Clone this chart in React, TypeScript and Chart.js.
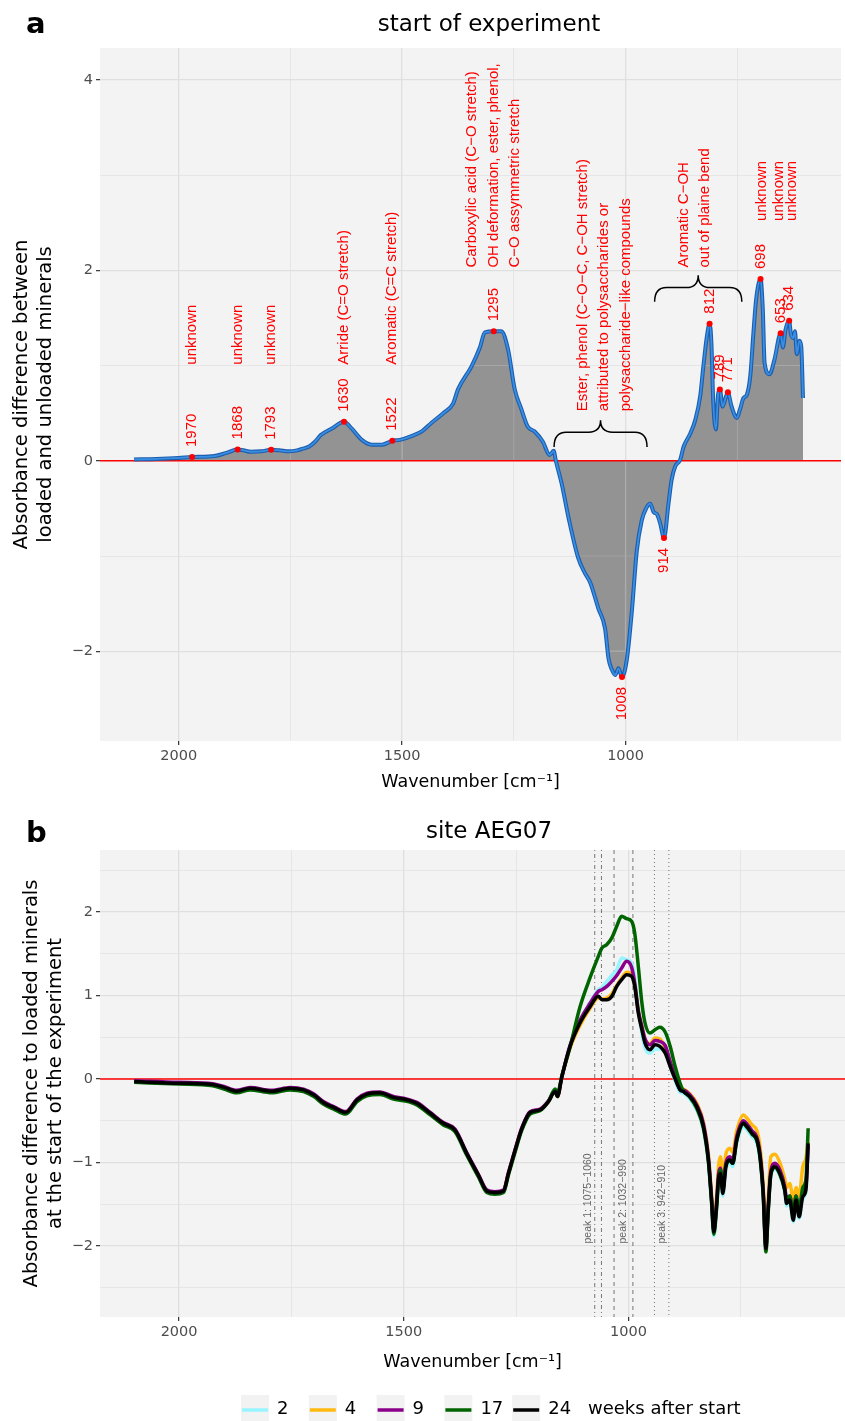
import React, { useEffect, useRef } from 'react';
import { Chart, registerables } from 'chart.js';

Chart.register(...registerables);

const SANS = '"DejaVu Sans", Verdana, sans-serif';
const ARIAL = '"Liberation Sans", Arial, Helvetica, sans-serif';

// ---------- shared axis ----------
const xTickValues = [2000, 1750, 1500, 1250, 1000, 750];
const xTickLabels = [2000, 1500, 1000];

// ---------- panel a data ----------
const wnA = [2100, 2050, 2000, 1970, 1920, 1895, 1868, 1855, 1838, 1815, 1793, 1775, 1753, 1735, 1724, 1708, 1695, 1682, 1657, 1630, 1613, 1590, 1568, 1545, 1522, 1505, 1479, 1456, 1434, 1408, 1386, 1375, 1345, 1326, 1315, 1295, 1278, 1263, 1248, 1233, 1219, 1204, 1185, 1170, 1161, 1156, 1143, 1128, 1106, 1091, 1079, 1061, 1046, 1038, 1031, 1023, 1016, 1008, 997, 986, 975, 964, 953, 945, 937, 930, 923, 914, 904, 897, 889, 878, 870, 855, 844, 833, 826, 818, 812, 808, 804, 798, 793, 789, 783, 775, 771, 764, 755, 751, 744, 736, 729, 721, 714, 708, 698, 693, 689, 678, 667, 653, 648, 642, 634, 630, 625, 621, 617, 611, 607, 603];
const absA = [0.015, 0.02, 0.03, 0.04, 0.05, 0.08, 0.12, 0.11, 0.095, 0.10, 0.115, 0.11, 0.10, 0.11, 0.125, 0.15, 0.20, 0.27, 0.34, 0.41, 0.34, 0.22, 0.17, 0.17, 0.21, 0.22, 0.26, 0.31, 0.40, 0.50, 0.60, 0.75, 0.99, 1.19, 1.35, 1.36, 1.36, 1.17, 0.75, 0.54, 0.36, 0.31, 0.20, 0.06, 0.105, 0.0, -0.24, -0.59, -1.02, -1.18, -1.28, -1.55, -1.76, -2.08, -2.19, -2.25, -2.18, -2.27, -2.08, -1.58, -0.95, -0.63, -0.49, -0.45, -0.54, -0.56, -0.65, -0.81, -0.45, -0.20, -0.06, 0.01, 0.15, 0.29, 0.43, 0.68, 0.99, 1.31, 1.44, 1.24, 0.64, 0.33, 0.70, 0.75, 0.57, 0.68, 0.72, 0.59, 0.47, 0.45, 0.54, 0.66, 0.69, 0.89, 1.34, 1.69, 1.91, 1.59, 1.03, 0.91, 1.06, 1.34, 1.19, 1.38, 1.47, 1.33, 1.29, 1.36, 1.12, 1.26, 1.20, 0.66];

const peakWn = [1970, 1868, 1793, 1630, 1522, 1295, 1008, 914, 812, 789, 771, 698, 653, 634];
const peakAbs = [0.04, 0.12, 0.115, 0.41, 0.21, 1.36, -2.27, -0.81, 1.44, 0.75, 0.72, 1.91, 1.34, 1.47];

const noteWn = [1970, 1868, 1793, 1630, 1522, 1295, 1048, 846, 696, 656, 629];
const noteBase = [1.01, 1.01, 1.01, 1.01, 1.01, 2.03, 0.52, 2.03, 2.52, 2.52, 2.52];
const noteText = [
  ['unknown'],
  ['unknown'],
  ['unknown'],
  ['Arride (C=O stretch)'],
  ['Aromatic (C=C stretch)'],
  ['Carboxylic acid (C\u2212O stretch)', 'OH deformation, ester, phenol,', 'C\u2212O assymmetric stretch'],
  ['Ester, phenol (C\u2212O\u2212C, C\u2212OH stretch)', 'attributed to polysaccharides or', 'polysaccharide\u2212like compounds'],
  ['Aromatic C\u2212OH', 'out of plaine bend'],
  ['unknown'],
  ['unknown'],
  ['unknown'],
];

const braceFrom = [1160, 935];
const braceTo = [952, 740];
const braceTip = [0.425, 1.95];
const braceMid = [0.30, 1.82];
const braceEnd = [0.145, 1.67];

// ---------- panel b data ----------
const wnB = [2100, 2000, 1925, 1900, 1872, 1842, 1794, 1753, 1723, 1700,
  1679, 1656, 1629, 1604, 1582, 1553, 1523, 1500, 1471, 1441,
  1412, 1386, 1360, 1334, 1315, 1297, 1278, 1267, 1252, 1237,
  1219, 1197, 1178, 1163, 1158, 1148,
  1130, 1108, 1085, 1067, 1059, 1048, 1037, 1026, 1015, 1004,
  993, 986, 978, 970, 963, 952, 941, 930, 918, 907, 896, 885,
  878, 863, 848, 833, 822, 815, 810, 804, 799, 795,
  790, 783, 774, 768, 759, 744, 736, 725, 714, 707,
  700, 694, 689, 683, 674, 663, 652, 648, 641, 633,
  627, 620, 612, 605, 600];

const week2 = [-0.03, -0.05, -0.07, -0.10, -0.15, -0.11, -0.15, -0.11, -0.13, -0.19,
  -0.28, -0.34, -0.41, -0.25, -0.18, -0.17, -0.22, -0.24, -0.29, -0.41,
  -0.53, -0.61, -0.89, -1.15, -1.34, -1.36, -1.34, -1.13, -0.85, -0.59,
  -0.40, -0.37, -0.27, -0.15, -0.21, 0.03,
  0.40, 0.70, 0.92, 1.07, 1.10, 1.17, 1.24, 1.31, 1.45, 1.43,
  1.39, 1.22, 0.85, 0.55, 0.37, 0.31, 0.36, 0.36, 0.32, 0.15, -0.02, -0.16,
  -0.17, -0.24, -0.37, -0.61, -1.01, -1.49, -1.88, -1.57, -1.21, -1.17,
  -1.40, -1.09, -1.01, -1.05, -0.77, -0.57, -0.61, -0.69, -0.77, -0.97,
  -1.40, -2.05, -1.60, -1.16, -1.08, -1.16, -1.36, -1.52, -1.48, -1.71,
  -1.48, -1.67, -1.43, -1.35, -0.79];

const week4 = [-0.03, -0.05, -0.065, -0.10, -0.145, -0.11, -0.145, -0.11, -0.13, -0.19,
  -0.28, -0.34, -0.40, -0.25, -0.18, -0.165, -0.22, -0.24, -0.29, -0.41,
  -0.53, -0.61, -0.89, -1.15, -1.34, -1.36, -1.34, -1.13, -0.85, -0.59,
  -0.40, -0.37, -0.27, -0.15, -0.21, 0.03,
  0.37, 0.64, 0.85, 0.97, 0.96, 0.97, 1.02, 1.12, 1.21, 1.28,
  1.26, 1.14, 0.82, 0.62, 0.47, 0.42, 0.49, 0.48, 0.37, 0.19, 0.02, -0.11,
  -0.12, -0.18, -0.29, -0.52, -0.90, -1.38, -1.75, -1.42, -1.02, -0.93,
  -1.20, -0.90, -0.83, -0.88, -0.62, -0.43, -0.47, -0.55, -0.62, -0.82,
  -1.27, -1.93, -1.45, -0.93, -0.90, -1.00, -1.20, -1.30, -1.25, -1.45,
  -1.30, -1.40, -1.05, -0.95, -0.75];

const week9 = [-0.02, -0.04, -0.055, -0.09, -0.135, -0.10, -0.135, -0.10, -0.12, -0.18,
  -0.27, -0.33, -0.39, -0.24, -0.17, -0.155, -0.21, -0.23, -0.28, -0.40,
  -0.52, -0.60, -0.88, -1.14, -1.33, -1.35, -1.33, -1.12, -0.84, -0.58,
  -0.39, -0.36, -0.26, -0.14, -0.20, 0.03,
  0.40, 0.70, 0.91, 1.05, 1.07, 1.11, 1.17, 1.24, 1.33, 1.41,
  1.34, 1.15, 0.82, 0.63, 0.48, 0.41, 0.46, 0.45, 0.40, 0.21, 0.03, -0.12,
  -0.13, -0.19, -0.31, -0.54, -0.94, -1.42, -1.80, -1.49, -1.12, -1.07,
  -1.32, -1.00, -0.93, -0.97, -0.69, -0.50, -0.54, -0.62, -0.70, -0.90,
  -1.34, -2.00, -1.54, -1.10, -1.01, -1.09, -1.29, -1.44, -1.40, -1.64,
  -1.40, -1.60, -1.36, -1.28, -0.80];

const week17 = [-0.04, -0.06, -0.08, -0.12, -0.165, -0.13, -0.165, -0.13, -0.15, -0.21,
  -0.30, -0.36, -0.42, -0.27, -0.20, -0.185, -0.24, -0.26, -0.31, -0.43,
  -0.55, -0.63, -0.91, -1.17, -1.36, -1.38, -1.36, -1.15, -0.87, -0.61,
  -0.42, -0.38, -0.27, -0.12, -0.17, 0.04,
  0.38, 0.86, 1.22, 1.47, 1.57, 1.61, 1.69, 1.83, 1.95, 1.92,
  1.89, 1.75, 1.35, 0.91, 0.67, 0.55, 0.59, 0.62, 0.56, 0.39, 0.15, -0.05,
  -0.14, -0.22, -0.35, -0.59, -0.99, -1.47, -1.86, -1.56, -1.19, -1.09,
  -1.33, -1.03, -0.98, -1.01, -0.74, -0.54, -0.58, -0.66, -0.74, -0.95,
  -1.40, -2.07, -1.60, -1.15, -1.06, -1.14, -1.33, -1.45, -1.40, -1.60,
  -1.40, -1.55, -1.30, -1.20, -0.59];

const week24 = [-0.03, -0.05, -0.065, -0.10, -0.145, -0.11, -0.145, -0.11, -0.13, -0.19,
  -0.28, -0.34, -0.40, -0.25, -0.18, -0.165, -0.22, -0.24, -0.29, -0.41,
  -0.53, -0.61, -0.89, -1.15, -1.34, -1.36, -1.34, -1.13, -0.85, -0.59,
  -0.40, -0.37, -0.27, -0.15, -0.21, 0.03,
  0.39, 0.67, 0.87, 0.99, 0.95, 0.95, 0.99, 1.11, 1.19, 1.25,
  1.23, 1.11, 0.79, 0.59, 0.43, 0.35, 0.41, 0.39, 0.31, 0.15, 0.0, -0.13,
  -0.15, -0.21, -0.33, -0.57, -0.97, -1.45, -1.83, -1.53, -1.17, -1.13,
  -1.37, -1.05, -0.97, -1.01, -0.73, -0.53, -0.57, -0.65, -0.73, -0.93,
  -1.37, -2.03, -1.57, -1.13, -1.05, -1.13, -1.33, -1.49, -1.45, -1.69,
  -1.45, -1.65, -1.41, -1.33, -0.77];

const weekLabels = ['2', '4', '9', '17', '24'];
const weekSeries = [week2, week4, week9, week17, week24];
const weekColors = ['#98F5FF', '#FFB90F', '#8B008B', '#006400', '#000000'];

const rangeLabel = ['peak 1: 1075\u22121060', 'peak 2: 1032\u2212990', 'peak 3: 942\u2212910'];
const rangeFrom = [1075, 1032, 942];
const rangeTo = [1060, 990, 910];
const rangeLabelWn = [1090, 1011, 926];
const rangeLabelBase = -1.97;
const rangeDash = [[1, 3, 4, 3], [4, 4], [1, 3]];

// ---------- helpers ----------
const BG = '#F3F3F3';
const GRID = '#DFDFDF';
const fmt = (v: number) => (v < 0 ? '\u2212' + Math.abs(v) : String(v));

function vText(ctx: CanvasRenderingContext2D, text: string, x: number, y: number, align: CanvasTextAlign, font: string, color: string) {
  ctx.save();
  ctx.translate(x, y);
  ctx.rotate(-Math.PI / 2);
  ctx.font = font;
  ctx.fillStyle = color;
  ctx.textAlign = align;
  ctx.textBaseline = 'middle';
  ctx.fillText(text, 0, 0);
  ctx.restore();
}

function xScaleOpts(height: number) {
  return {
    type: 'linear',
    reverse: true,
    min: 518,
    max: 2176,
    position: 'bottom',
    afterBuildTicks: (s: any) => { s.ticks = xTickValues.map((v) => ({ value: v })); },
    afterFit: (s: any) => { s.height = height; },
    ticks: {
      autoSkip: false, maxRotation: 0, minRotation: 0, padding: 3,
      color: '#4D4D4D', font: { family: SANS, size: 14.5 },
      callback: (v: any) => (xTickLabels.includes(Number(v)) ? fmt(Number(v)) : ''),
    },
    grid: {
      color: GRID,
      lineWidth: (c: any) => (c.tick && xTickLabels.includes(c.tick.value) ? 1.3 : 0.7),
      tickLength: 4,
      tickWidth: 1.2,
      tickColor: (c: any) => (c.tick && xTickLabels.includes(c.tick.value) ? '#333333' : 'rgba(0,0,0,0)'),
    },
    border: { display: false },
    title: {
      display: true, text: 'Wavenumber [cm\u207B\u00B9]', color: '#000',
      font: { family: SANS, size: 17.5 }, padding: { top: 0, bottom: 7 },
    },
  };
}

function yScaleOpts(min: number, max: number, tickVals: number[], labelVals: number[], title: string[], titlePadTop: number) {
  return {
    type: 'linear',
    min, max,
    afterBuildTicks: (s: any) => { s.ticks = tickVals.map((v) => ({ value: v })); },
    afterFit: (s: any) => { s.width = 100; },
    ticks: {
      autoSkip: false, padding: 3, color: '#4D4D4D', font: { family: SANS, size: 14.5 },
      callback: (v: any) => (labelVals.includes(Number(v)) ? fmt(Number(v)) : ''),
    },
    grid: {
      color: GRID,
      lineWidth: (c: any) => (c.tick && labelVals.includes(c.tick.value) ? 1.3 : 0.7),
      tickLength: 4,
      tickWidth: 1.2,
      tickColor: (c: any) => (c.tick && labelVals.includes(c.tick.value) ? '#333333' : 'rgba(0,0,0,0)'),
    },
    border: { display: false },
    title: {
      display: true, text: title, color: '#000',
      font: { family: SANS, size: 19.5, lineHeight: 1.23 }, padding: { top: titlePadTop, bottom: 0 },
    },
  };
}

function fillBg(chart: any) {
  const { ctx, chartArea: a } = chart;
  ctx.save();
  ctx.fillStyle = BG;
  ctx.fillRect(a.left, a.top, a.right - a.left, a.bottom - a.top);
  ctx.restore();
}

function drawHeader(chart: any, tag: string, tagBase: number, title: string, titleBase: number) {
  const ctx = chart.ctx;
  ctx.save();
  ctx.fillStyle = '#000';
  ctx.textBaseline = 'alphabetic';
  ctx.textAlign = 'left';
  ctx.font = `bold 29px ${SANS}`;
  ctx.fillText(tag, 26, tagBase);
  ctx.textAlign = 'center';
  ctx.font = `23px ${SANS}`;
  ctx.fillText(title, 489, titleBase);
  ctx.restore();
}

// ---------- plugins ----------
const pluginA = {
  id: 'panelA',
  beforeDraw(chart: any) { fillBg(chart); },
  afterDatasetDraw(chart: any, args: any) {
    if (args.index !== 0) return;
    const { ctx, chartArea: a, scales } = chart;
    ctx.save();
    ctx.globalCompositeOperation = 'lighten';
    ctx.strokeStyle = 'rgb(172,172,172)';
    xTickValues.forEach((v) => {
      const px = scales.x.getPixelForValue(v);
      ctx.lineWidth = xTickLabels.includes(v) ? 1.3 : 0.7;
      ctx.beginPath(); ctx.moveTo(px, a.top); ctx.lineTo(px, a.bottom); ctx.stroke();
    });
    [-2, -1, 1, 2, 3, 4].forEach((v) => {
      const py = scales.y.getPixelForValue(v);
      ctx.lineWidth = v % 2 === 0 ? 1.3 : 0.7;
      ctx.beginPath(); ctx.moveTo(a.left, py); ctx.lineTo(a.right, py); ctx.stroke();
    });
    ctx.restore();
  },
  afterDatasetsDraw(chart: any) {
    const { ctx, scales } = chart;
    const xs = scales.x, ys = scales.y;
    // braces
    ctx.save();
    ctx.strokeStyle = '#000';
    ctx.lineWidth = 1.5;
    braceFrom.forEach((f, i) => {
      const x1 = xs.getPixelForValue(f), x2 = xs.getPixelForValue(braceTo[i]);
      const cx = (x1 + x2) / 2;
      const yT = ys.getPixelForValue(braceTip[i]);
      const yM = ys.getPixelForValue(braceMid[i]);
      const yE = ys.getPixelForValue(braceEnd[i]);
      const r = 12;
      ctx.beginPath();
      ctx.moveTo(x1, yE);
      ctx.quadraticCurveTo(x1, yM, x1 + r, yM);
      ctx.lineTo(cx - r, yM);
      ctx.quadraticCurveTo(cx, yM, cx, yT);
      ctx.quadraticCurveTo(cx, yM, cx + r, yM);
      ctx.lineTo(x2 - r, yM);
      ctx.quadraticCurveTo(x2, yM, x2, yE);
      ctx.stroke();
    });
    ctx.restore();
    const font = `15px ${ARIAL}`;
    // peak numbers
    peakWn.forEach((w, i) => {
      const px = xs.getPixelForValue(w);
      const py = ys.getPixelForValue(peakAbs[i]);
      if (peakAbs[i] >= 0) vText(ctx, String(w), px, py - 10, 'left', font, '#FF0000');
      else vText(ctx, String(w), px, py + 10, 'right', font, '#FF0000');
    });
    // assignments
    noteWn.forEach((w, i) => {
      const lines = noteText[i];
      const cx = xs.getPixelForValue(w);
      const py = ys.getPixelForValue(noteBase[i]);
      lines.forEach((t, j) => {
        const px = cx + (j - (lines.length - 1) / 2) * 21.5;
        vText(ctx, t, px, py, 'left', font, '#FF0000');
      });
    });
  },
  afterDraw(chart: any) { drawHeader(chart, 'a', 33, 'start of experiment', 31); },
};

const pluginB = {
  id: 'panelB',
  beforeDraw(chart: any) { fillBg(chart); },
  beforeDatasetsDraw(chart: any) {
    const { ctx, chartArea: a, scales } = chart;
    const xs = scales.x, ys = scales.y;
    ctx.save();
    ctx.strokeStyle = '#666666';
    ctx.lineWidth = 0.9;
    rangeFrom.forEach((f, i) => {
      ctx.setLineDash(rangeDash[i]);
      [f, rangeTo[i]].forEach((w) => {
        const px = xs.getPixelForValue(w);
        ctx.beginPath(); ctx.moveTo(px, a.top); ctx.lineTo(px, a.bottom); ctx.stroke();
      });
    });
    ctx.setLineDash([]);
    ctx.restore();
    rangeLabel.forEach((t, i) => {
      vText(ctx, t, xs.getPixelForValue(rangeLabelWn[i]), ys.getPixelForValue(rangeLabelBase), 'left', `10.5px ${ARIAL}`, '#666666');
    });
  },
  afterDraw(chart: any) {
    drawHeader(chart, 'b', 42, 'site AEG07', 38);
    const ctx = chart.ctx;
    ctx.save();
    const y = 609;
    weekLabels.forEach((lab, i) => {
      const bx = 241 + i * 67.8;
      ctx.fillStyle = '#F2F2F2';
      ctx.fillRect(bx, 595, 28, 26);
      ctx.strokeStyle = weekColors[i];
      ctx.lineWidth = 3.5;
      ctx.beginPath(); ctx.moveTo(bx + 1, y + 1); ctx.lineTo(bx + 27, y + 1); ctx.stroke();
      ctx.fillStyle = '#000';
      ctx.font = `18px ${SANS}`;
      ctx.textAlign = 'left';
      ctx.textBaseline = 'middle';
      ctx.fillText(lab, bx + 36, y);
    });
    ctx.fillText('weeks after start', 588, y);
    ctx.restore();
  },
};

function makeConfigA(): any {
  const pts = wnA.map((w, i) => ({ x: w, y: absA[i] }));
  return {
    type: 'line',
    data: {
      datasets: [
        { data: pts, fill: 'origin', backgroundColor: '#939393', borderColor: 'rgba(0,0,0,0)', borderWidth: 0, pointRadius: 0, cubicInterpolationMode: 'monotone', order: 10 },
        { data: [{ x: 2176, y: 0 }, { x: 518, y: 0 }], borderColor: '#FF0000', borderWidth: 1.6, pointRadius: 0, fill: false, order: 9 },
        { data: pts, borderColor: '#1B5DAE', borderWidth: 4, pointRadius: 0, fill: false, cubicInterpolationMode: 'monotone', order: 8 },
        { data: pts, borderColor: '#3A8FE3', borderWidth: 1.8, pointRadius: 0, fill: false, cubicInterpolationMode: 'monotone', order: 7 },
        { data: peakWn.map((w, i) => ({ x: w, y: peakAbs[i] })), showLine: false, pointRadius: 3, pointBackgroundColor: '#FF0000', pointBorderWidth: 0, pointBorderColor: '#FF0000', order: 1 },
      ],
    },
    options: {
      animation: false,
      responsive: false,
      devicePixelRatio: 1,
      layout: { padding: { top: 48, left: 0, right: 0, bottom: 0 } },
      plugins: { legend: { display: false }, tooltip: { enabled: false }, title: { display: false } },
      scales: {
        x: xScaleOpts(59),
        y: yScaleOpts(-2.943, 4.336, [-2, -1, 0, 1, 2, 3, 4], [-2, 0, 2, 4], ['Absorbance difference between', 'loaded and unloaded minerals'], 10),
      },
    },
    plugins: [pluginA],
  };
}

function makeConfigB(): any {
  const lines = weekSeries.map((s, k) => ({
    data: wnB.map((w, i) => ({ x: w, y: s[i] })),
    borderColor: weekColors[k],
    borderWidth: 3.5,
    pointRadius: 0,
    fill: false,
    cubicInterpolationMode: 'monotone',
    order: 5 - k,
  }));
  return {
    type: 'line',
    data: {
      datasets: [
        { data: [{ x: 2176, y: 0 }, { x: 518, y: 0 }], borderColor: '#FF0000', borderWidth: 1.6, pointRadius: 0, fill: false, order: 10 },
        ...lines,
      ],
    },
    options: {
      animation: false,
      responsive: false,
      devicePixelRatio: 1,
      layout: { padding: { top: 50, left: 0, right: 0, bottom: 41 } },
      plugins: { legend: { display: false }, tooltip: { enabled: false }, title: { display: false } },
      scales: {
        x: xScaleOpts(63),
        y: yScaleOpts(-2.85, 2.743, [-2.5, -2, -1.5, -1, -0.5, 0, 0.5, 1, 1.5, 2, 2.5], [-2, -1, 0, 1, 2], ['Absorbance difference to loaded minerals', 'at the start of the experiment'], 20),
      },
    },
    plugins: [pluginB],
  };
}

export default function App() {
  const refA = useRef<HTMLCanvasElement>(null);
  const refB = useRef<HTMLCanvasElement>(null);
  useEffect(() => {
    const a = new Chart(refA.current as HTMLCanvasElement, makeConfigA());
    const b = new Chart(refB.current as HTMLCanvasElement, makeConfigB());
    return () => { a.destroy(); b.destroy(); };
  }, []);
  return (
    <div style={{ position: 'absolute', left: 0, top: 0, width: 845, height: 1421, background: '#ffffff' }}>
      <canvas ref={refA} width={845} height={800} style={{ position: 'absolute', left: 0, top: 0, width: 845, height: 800 }} />
      <canvas ref={refB} width={845} height={621} style={{ position: 'absolute', left: 0, top: 800, width: 845, height: 621 }} />
    </div>
  );
}
